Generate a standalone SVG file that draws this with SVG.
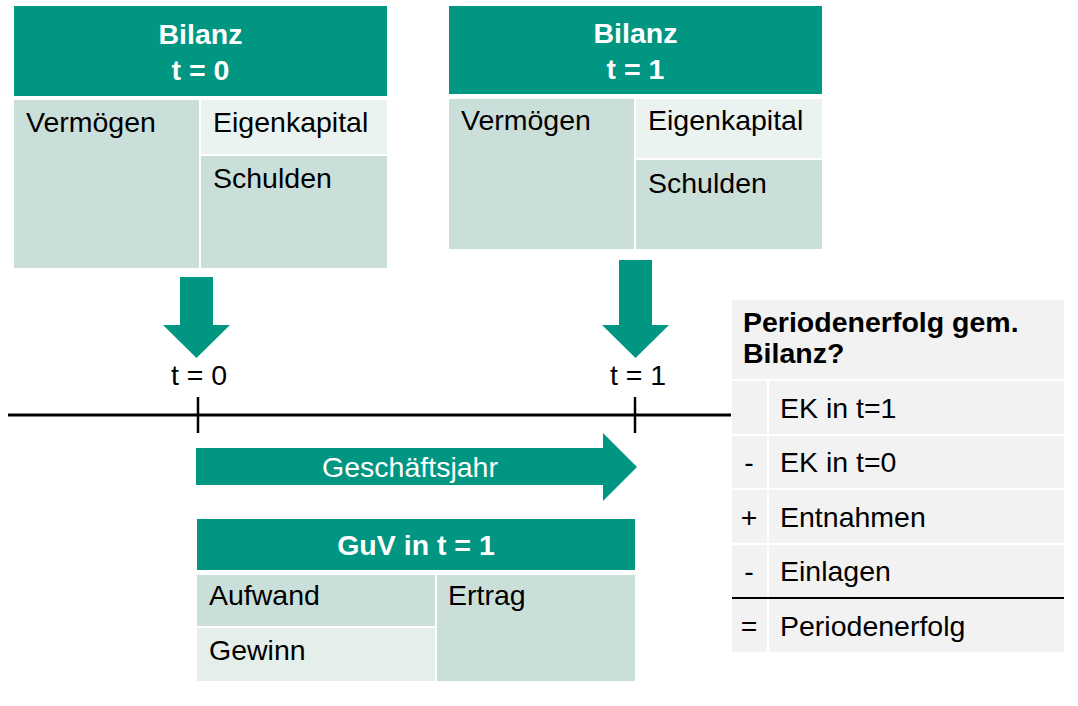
<svg xmlns="http://www.w3.org/2000/svg" width="1078" height="706" viewBox="0 0 1078 706">
<style>
text{font-family:"Liberation Sans",Arial,sans-serif;font-size:28.5px;fill:#000}
.h{fill:#009682}
.m{fill:#cbdfda}
.l{fill:#ebf3f1}
.g{fill:#e4eeea}
.t{fill:#f2f2f2}
.w{fill:#fff;font-weight:bold;text-anchor:middle}
.b{font-weight:bold}
.c{text-anchor:middle}
.sep{stroke:#fff;stroke-width:2}
</style>
<rect width="1078" height="706" fill="#fff"/>
<g id="bilanz0">
<rect class="h" x="14" y="6" width="373" height="90"/>
<text class="w" x="200.5" y="44">Bilanz</text>
<text class="w" x="200.5" y="80">t = 0</text>
<rect class="m" x="14" y="100" width="185" height="168"/>
<rect class="l" x="201" y="100" width="186" height="54"/>
<rect class="m" x="201" y="156" width="186" height="112"/>
<text x="26" y="132">Vermögen</text>
<text x="213" y="132">Eigenkapital</text>
<text x="213" y="188">Schulden</text>
</g>
<g id="bilanz1">
<rect class="h" x="449" y="6" width="373" height="88"/>
<text class="w" x="635.5" y="43">Bilanz</text>
<text class="w" x="635.5" y="79">t = 1</text>
<rect class="m" x="449" y="99" width="185" height="150"/>
<rect class="l" x="636" y="99" width="186" height="59"/>
<rect class="m" x="636" y="160" width="186" height="89"/>
<text x="461" y="130">Vermögen</text>
<text x="648" y="130">Eigenkapital</text>
<text x="648" y="193">Schulden</text>
</g>
<g id="connectors">
<polygon class="h" points="180,277 213,277 213,325 230,325 196.5,358 163,325 180,325"/>
<polygon class="h" points="619,260 652,260 652,325 669,325 635.5,358 602,325 619,325"/>
<line x1="8" y1="415" x2="731" y2="415" stroke="#000" stroke-width="3"/>
<line x1="198" y1="397" x2="198" y2="433" stroke="#000" stroke-width="2.5"/>
<line x1="635" y1="397" x2="635" y2="433" stroke="#000" stroke-width="2.5"/>
</g>
<g id="labels">
<text class="c" x="199" y="385">t = 0</text>
<text class="c" x="638" y="385">t = 1</text>
</g>
<g id="geschaeftsjahr">
<polygon class="h" points="196,448 603,448 603,433 637,467 603,501 603,485 196,485"/>
<text class="c" x="410" y="477" style="fill:#fff">Geschäftsjahr</text>
</g>
<g id="guv">
<rect class="h" x="197" y="519" width="438" height="51"/>
<text class="w" x="416" y="555">GuV in t = 1</text>
<rect class="m" x="197" y="575" width="238" height="51"/>
<rect class="g" x="197" y="628" width="238" height="53"/>
<rect class="m" x="437" y="575" width="198" height="106"/>
<text x="209" y="605">Aufwand</text>
<text x="209" y="660">Gewinn</text>
<text x="448" y="605">Ertrag</text>
</g>
<g id="periodenerfolg">
<rect class="t" x="732" y="300" width="332" height="352"/>
<text class="b" x="743" y="332">Periodenerfolg gem.</text>
<text class="b" x="743" y="363">Bilanz?</text>
<line class="sep" x1="732" y1="380" x2="1064" y2="380"/>
<line class="sep" x1="732" y1="435" x2="1064" y2="435"/>
<line class="sep" x1="732" y1="489" x2="1064" y2="489"/>
<line class="sep" x1="732" y1="544" x2="1064" y2="544"/>
<line class="sep" x1="768" y1="381" x2="768" y2="652"/>
<line x1="732" y1="598" x2="1064" y2="598" stroke="#000" stroke-width="2"/>
<text x="780" y="418">EK in t=1</text>
<text class="c" x="749" y="472">-</text>
<text x="780" y="472">EK in t=0</text>
<text class="c" x="749" y="527">+</text>
<text x="780" y="527">Entnahmen</text>
<text class="c" x="749" y="581">-</text>
<text x="780" y="581">Einlagen</text>
<text class="c" x="749" y="636">=</text>
<text x="780" y="636">Periodenerfolg</text>
</g>
</svg>
